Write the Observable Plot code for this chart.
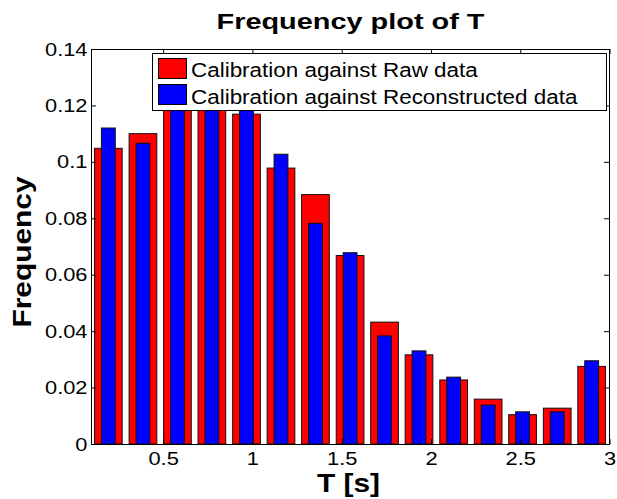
<!DOCTYPE html>
<html>
<head>
<meta charset="utf-8">
<script src="https://cdn.jsdelivr.net/npm/d3@7"></script>
<script src="https://cdn.jsdelivr.net/npm/@observablehq/plot@0.6"></script>
<style>
  html, body { margin: 0; padding: 0; background: #fff; }
  #wrap { position: relative; width: 617px; height: 499px; overflow: hidden; font-family: "Liberation Sans", Arial, sans-serif; }
  #legend { position: absolute; left: 151.5px; top: 53px; width: 453px; height: 56px; background: #fff; border: 1px solid #000; }
  .sw { position: absolute; left: 5px; width: 27px; height: 19px; border: 1px solid #000; }
  .lt { position: absolute; left: 38px; font-size: 19.5px; line-height: 1; white-space: nowrap; color: #000; transform: scaleX(1.15); transform-origin: left center; }
</style>
</head>
<body>
<div id="wrap"></div>
<script>
// ---- data ----
const binCenters = [0.193, 0.387, 0.580, 0.773, 0.967, 1.160, 1.353, 1.547, 1.740, 1.933, 2.127, 2.320, 2.513, 2.707, 2.900];
const rawFreq    = [0.1048, 0.1100, 0.1240, 0.1260, 0.1169, 0.0978, 0.0884, 0.0668, 0.0432, 0.0316, 0.0227, 0.0159, 0.0104, 0.0127, 0.0275];
const reconFreq  = [0.1120, 0.1066, 0.1210, 0.1220, 0.1190, 0.1027, 0.0782, 0.0678, 0.0383, 0.0330, 0.0237, 0.0138, 0.0114, 0.0114, 0.0295];
const seriesNames = ["Calibration against Raw data", "Calibration against Reconstructed data"];
const seriesColors = ["#ff0000", "#0000ff"];
const xTicks = [0.5, 1, 1.5, 2, 2.5, 3];
const yTicks = [0, 0.02, 0.04, 0.06, 0.08, 0.1, 0.12, 0.14];
const titleText = "Frequency plot of T";
const xLabel = "T [s]";
const yLabel = "Frequency";

// ---- build ----
const w = binCenters[1] - binCenters[0];
const table = binCenters.map((c, i) => ({c, raw: rawFreq[i], recon: reconFreq[i]}));
const W = 617, H = 499, mT = 49, mB = 55, mL = 91, mR = 8;
const fw = W - mL - mR, fh = H - mT - mB;
const font = '"Liberation Sans", Arial, sans-serif';

const chart = Plot.plot({
  width: W, height: H,
  marginTop: mT, marginBottom: mB, marginLeft: mL, marginRight: mR,
  style: {fontFamily: font, background: "#fff", color: "#000", overflow: "visible"},
  x: {domain: [binCenters[0] - w / 2, binCenters[binCenters.length - 1] + w / 2]},
  y: {domain: [0, 0.14]},
  marks: [
    Plot.rectY(table, {x1: d => d.c - 0.4 * w, x2: d => d.c + 0.4 * w, y: "raw", fill: seriesColors[0], stroke: "#111", strokeWidth: 1}),
    Plot.rectY(table, {x1: d => d.c - 0.2 * w, x2: d => d.c + 0.2 * w, y: "recon", fill: seriesColors[1], stroke: "#111", strokeWidth: 1}),
    Plot.frame({stroke: "#000", strokeWidth: 1}),
    Plot.ruleX(xTicks, {insetTop: fh - 5, stroke: "#000"}),
    Plot.ruleX(xTicks, {insetBottom: fh - 5, stroke: "#000"}),
    Plot.ruleY(yTicks, {insetRight: fw - 5, stroke: "#000"}),
    Plot.ruleY(yTicks, {insetLeft: fw - 5, stroke: "#000"}),
    Plot.axisX(xTicks, {tickSize: 0, tickPadding: 7, fontSize: 19, label: null, tickFormat: d => String(d)}),
    Plot.axisY(yTicks, {tickSize: 0, tickPadding: 4, fontSize: 19, label: null, tickFormat: d => String(d)}),
    Plot.text([titleText], {frameAnchor: "top", textAnchor: "middle", dy: -21, lineAnchor: "bottom", fontSize: 22, fontWeight: "bold", fill: "#000"}),
    Plot.text([xLabel], {frameAnchor: "bottom", textAnchor: "middle", dx: -2, dy: 47, lineAnchor: "bottom", fontSize: 26, fontWeight: "bold", fill: "#000"}),
    Plot.text([yLabel], {frameAnchor: "left", textAnchor: "middle", dx: -61, dy: 5, rotate: -90, lineAnchor: "bottom", fontSize: 26, fontWeight: "bold", fill: "#000"})
  ]
});

// stretch text horizontally to match the wider reference rendering
chart.querySelectorAll("text").forEach(t => {
  if (t.textContent === titleText) {
    t.setAttribute("textLength", 268);
    t.setAttribute("lengthAdjust", "spacingAndGlyphs");
    return;
  }
  const tr = t.getAttribute("transform") || "";
  t.setAttribute("transform", tr + " scale(1.15,1)");
});

const wrap = document.getElementById("wrap");
wrap.appendChild(chart);
chart.style.position = "absolute";
chart.style.left = "0px";
chart.style.top = "0px";

// legend overlay (drawn above the bars, as in the reference)
const legend = document.createElement("div");
legend.id = "legend";
const rowTops = [4, 30];
const textTops = [7, 33.5];
seriesNames.forEach((name, i) => {
  const sw = document.createElement("div");
  sw.className = "sw";
  sw.style.top = rowTops[i] + "px";
  sw.style.background = seriesColors[i];
  legend.appendChild(sw);
  const lt = document.createElement("div");
  lt.className = "lt";
  lt.style.top = textTops[i] + "px";
  lt.textContent = name;
  legend.appendChild(lt);
});
wrap.appendChild(legend);
</script>
</body>
</html>
